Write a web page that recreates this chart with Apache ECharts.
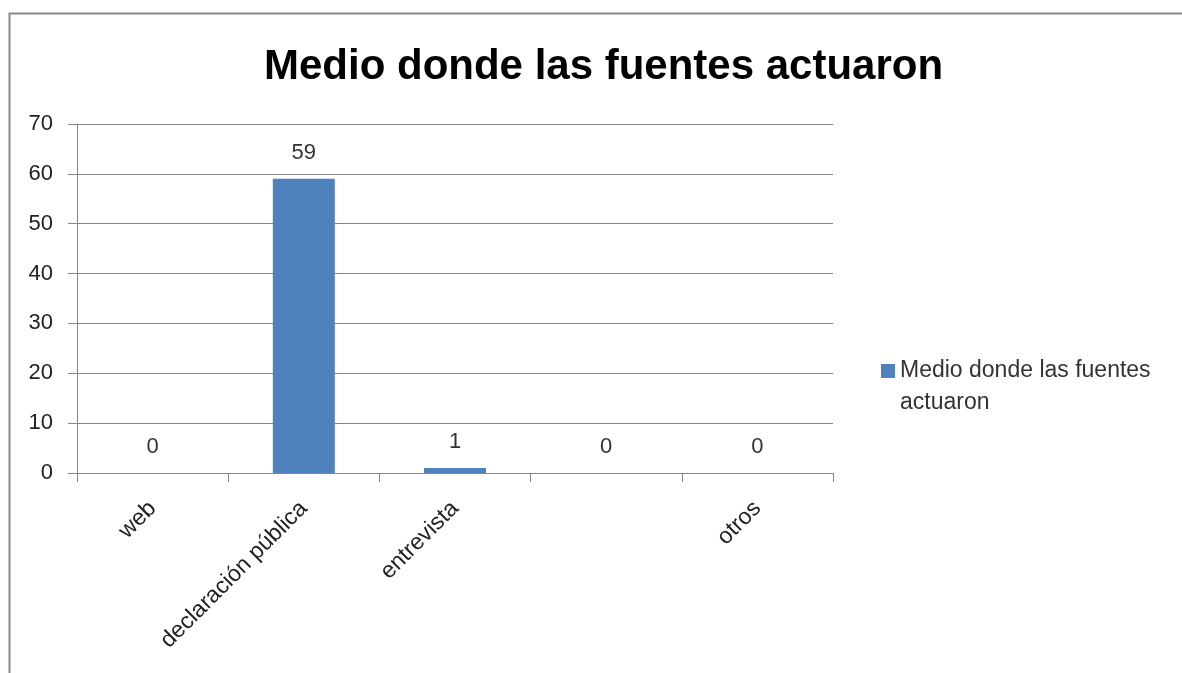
<!DOCTYPE html>
<html>
<head>
<meta charset="utf-8">
<script src="https://cdn.jsdelivr.net/npm/echarts@6/dist/echarts.min.js"></script>
<style>html,body{margin:0;padding:0;background:#fff}#c{width:1182px;height:673px}</style>
</head>
<body>
<div id="c"></div>
<script>
var categories = ['web', 'declaración pública', 'entrevista', '', 'otros'];
var values = [0, 59, 1, 0, 0];
var seriesName = 'Medio donde las fuentes actuaron';
var titleText = 'Medio donde las fuentes actuaron';

var chart = echarts.init(document.getElementById('c'));
chart.setOption({
  animation: false,
  graphic: [{
    type: 'rect', left: 7, top: 11,
    shape: { width: 1300, height: 800 },
    style: { fill: 'none', stroke: '#888888', lineWidth: 2 },
    silent: true
  }],
  title: {
    text: titleText, left: 259, top: 41,
    textStyle: { fontFamily: 'Liberation Sans', fontWeight: 'bold', fontSize: 42, color: '#000' }
  },
  legend: {
    left: 876, top: 350, orient: 'vertical',
    itemWidth: 14, itemHeight: 46, itemGap: 8,
    icon: 'path://M0,0h14v14h-14z M0,46h14',
    formatter: function () { return 'Medio donde las fuentes\nactuaron'; },
    textStyle: { fontFamily: 'Liberation Sans', fontSize: 23, color: '#333', lineHeight: 32 }
  },
  grid: { left: 77, top: 124, right: 349, bottom: 200, containLabel: false },
  xAxis: {
    type: 'category', data: categories,
    axisLine: { lineStyle: { color: '#868686', width: 1 } },
    axisTick: { show: true, length: 9, lineStyle: { color: '#868686' } },
    axisLabel: { rotate: 45, fontFamily: 'Liberation Sans', fontSize: 23, color: '#222', margin: 32, interval: 0 }
  },
  yAxis: {
    type: 'value', min: 0, max: 70, interval: 10,
    axisLine: { show: true, lineStyle: { color: '#868686', width: 1 } },
    axisTick: { show: true, length: 9, lineStyle: { color: '#868686' } },
    axisLabel: { fontFamily: 'Liberation Sans', fontSize: 22, color: '#222', margin: 24 },
    splitLine: { lineStyle: { color: '#868686', width: 1 } }
  },
  series: [{
    name: seriesName, type: 'bar', data: values, barWidth: '41%',
    itemStyle: { color: '#4f81bd' },
    label: { show: true, position: 'top', distance: 15, fontFamily: 'Liberation Sans', fontSize: 22, color: '#333' }
  }]
});
</script>
</body>
</html>
